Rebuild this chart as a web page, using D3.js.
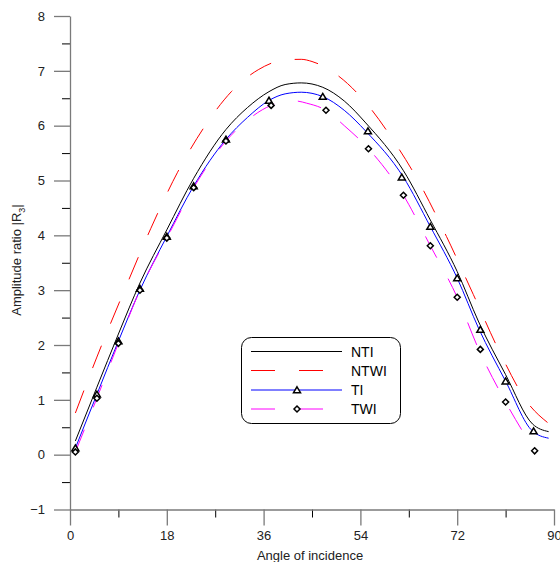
<!DOCTYPE html>
<html>
<head>
<meta charset="utf-8">
<script src="https://cdn.jsdelivr.net/npm/d3@7"></script>
<style>
  body { margin: 0; background: #fff; }
  text { font-family: Arial, "Liberation Sans", sans-serif; }
</style>
</head>
<body>
<div id="chart"></div>
<script>
(function() {
  var width = 560,
      height = 562;

  // curve samples (angle in degrees)
  var curveAngles = [1, 5, 9, 13, 18, 23, 29, 33, 37, 40, 43, 47, 51, 55, 62, 67, 72, 76, 81, 86, 89];
  var ntiValues  = [0.25, 1.23, 2.2, 3.13, 4.1, 5.04, 5.93, 6.33, 6.62, 6.75, 6.78, 6.7, 6.45, 6.05, 5.18, 4.28, 3.34, 2.42, 1.46, 0.56, 0.42];
  var tiValues   = [0.12, 1.1, 2.07, 3.0, 3.98, 4.9, 5.75, 6.15, 6.46, 6.58, 6.61, 6.53, 6.28, 5.9, 5.06, 4.16, 3.22, 2.3, 1.34, 0.43, 0.3];

  var ntwiAngles = [1, 5, 10, 15, 20, 25, 30, 35, 40, 43, 45, 50, 55, 60, 65, 70, 75, 80, 85, 89];
  var ntwiValues = [0.76, 1.78, 2.97, 4.12, 5.15, 5.98, 6.62, 7.02, 7.2, 7.21, 7.17, 6.9, 6.42, 5.75, 4.95, 3.98, 2.92, 1.85, 0.96, 0.57];

  var twiAngles  = [1, 5, 9, 13, 18, 23, 29, 33, 37.4, 40, 42, 44, 47.6, 51, 55.5, 62, 67, 72, 76, 81, 86.4];
  var twiValues  = [0.05, 1.03, 2.03, 3.0, 3.95, 4.87, 5.72, 6.1, 6.37, 6.44, 6.45, 6.41, 6.28, 6.0, 5.58, 4.73, 3.81, 2.87, 1.92, 0.96, 0.07];

  // marker points
  var tiMarkAngles  = [1, 5, 9, 13, 18, 23, 29, 37, 47, 55.4, 61.7, 67, 72, 76.3, 81, 86.2];
  var tiMarkValues  = [0.12, 1.1, 2.07, 3.03, 3.98, 4.9, 5.75, 6.46, 6.53, 5.9, 5.06, 4.16, 3.22, 2.28, 1.34, 0.43];
  var twiMarkAngles = [1, 5, 9, 13, 18, 23, 29, 37.4, 47.6, 55.5, 62, 67, 72, 76.3, 81, 86.4];
  var twiMarkValues = [0.05, 1.03, 2.03, 3.0, 3.95, 4.87, 5.72, 6.37, 6.28, 5.58, 4.73, 3.81, 2.87, 1.92, 0.96, 0.07];

  var xTicks = [0, 18, 36, 54, 72, 90];
  var xMinor = [9, 27, 45, 63, 81];
  var yTicks = [-1, 0, 1, 2, 3, 4, 5, 6, 7, 8];
  var yMinor = [-0.5, 0.5, 1.5, 2.5, 3.5, 4.5, 5.5, 6.5, 7.5];

  var legendNames = ["NTI", "NTWI", "TI", "TWI"];

  var x = d3.scaleLinear().domain([0, 90]).range([70, 554]);
  var y = d3.scaleLinear().domain([-1, 8]).range([509.5, 16]);

  var svg = d3.select("#chart")
      .append("svg")
      .attr("width", width)
      .attr("height", height);

  var axisGray = "#7a7a7a";

  // minor ticks first (black, short)
  var xAxisMinor = d3.axisBottom(x).tickValues(xMinor).tickSize(8).tickFormat("");
  var gxm = svg.append("g").attr("transform", "translate(0," + y(-1) + ")").call(xAxisMinor);
  gxm.select(".domain").remove();
  gxm.selectAll("line").attr("stroke", "#000");

  var yAxisMinor = d3.axisLeft(y).tickValues(yMinor).tickSize(8).tickFormat("");
  var gym = svg.append("g").attr("transform", "translate(" + x(0) + ",0)").call(yAxisMinor);
  gym.select(".domain").remove();
  gym.selectAll("line").attr("stroke", "#000");

  // major axes
  var xAxis = d3.axisBottom(x).tickValues(xTicks).tickSize(16).tickSizeOuter(0).tickPadding(5);
  var gx = svg.append("g").attr("transform", "translate(0," + y(-1) + ")").call(xAxis);
  gx.select(".domain").attr("stroke", axisGray).attr("stroke-width", 1.3);
  gx.selectAll("line").attr("stroke", axisGray).attr("stroke-width", 1.3);
  gx.selectAll("text").attr("font-size", 13).attr("fill", "#222")
    .attr("font-family", "Arial, 'Liberation Sans', sans-serif");

  var yAxis = d3.axisLeft(y).tickValues(yTicks).tickSize(16).tickSizeOuter(0).tickPadding(9);
  var gy = svg.append("g").attr("transform", "translate(" + x(0) + ",0)").call(yAxis);
  gy.select(".domain").attr("stroke", axisGray).attr("stroke-width", 1.3);
  gy.selectAll("line").attr("stroke", axisGray).attr("stroke-width", 1.3);
  gy.selectAll("text").attr("font-size", 13).attr("fill", "#222")
    .attr("font-family", "Arial, 'Liberation Sans', sans-serif");

  // axis titles
  svg.append("text")
    .attr("x", 310).attr("y", 560)
    .attr("text-anchor", "middle")
    .attr("font-size", 13).attr("fill", "#222")
    .text("Angle of incidence");

  var yt = svg.append("text")
    .attr("transform", "translate(21,260) rotate(-90)")
    .attr("text-anchor", "middle")
    .attr("font-size", 13).attr("fill", "#222");
  yt.append("tspan").text("Amplitude ratio |R");
  yt.append("tspan").attr("font-size", 9).attr("dy", 4).text("3");
  yt.append("tspan").attr("dy", -4).text("|");

  var line = d3.line()
    .x(function(d) { return x(d[0]); })
    .y(function(d) { return y(d[1]); })
    .curve(d3.curveMonotoneX);

  var zip = function(a, b) { return a.map(function(v, i) { return [v, b[i]]; }); };

  var series = [
    { data: zip(curveAngles, ntiValues), color: "#000000", dash: null },
    { data: zip(ntwiAngles, ntwiValues), color: "#ff0000", dash: "24,24" },
    { data: zip(curveAngles, tiValues), color: "#0000ff", dash: null },
    { data: zip(twiAngles, twiValues), color: "#ff00ff", dash: "24,24" }
  ];

  svg.append("g").selectAll("path")
    .data(series)
    .enter()
    .append("path")
    .attr("d", function(d) { return line(d.data); })
    .attr("fill", "none")
    .attr("stroke", function(d) { return d.color; })
    .attr("stroke-width", 1)
    .attr("stroke-dasharray", function(d) { return d.dash; });

  var triangle = "M0,-3.2L3.5,2.7L-3.5,2.7Z";
  var diamond = "M0,-3L3,0L0,3L-3,0Z";

  svg.append("g").selectAll("path")
    .data(zip(tiMarkAngles, tiMarkValues))
    .enter()
    .append("path")
    .attr("d", triangle)
    .attr("transform", function(d) { return "translate(" + x(d[0]) + "," + y(d[1]) + ")"; })
    .attr("fill", "#fff").attr("stroke", "#000").attr("stroke-width", 1.5);

  svg.append("g").selectAll("path")
    .data(zip(twiMarkAngles, twiMarkValues))
    .enter()
    .append("path")
    .attr("d", diamond)
    .attr("transform", function(d) { return "translate(" + x(d[0]) + "," + y(d[1]) + ")"; })
    .attr("fill", "#fff").attr("stroke", "#000").attr("stroke-width", 1.5);

  // legend
  var legend = svg.append("g");
  legend.append("rect")
    .attr("x", 241.5).attr("y", 337.5)
    .attr("width", 159).attr("height", 86)
    .attr("rx", 10).attr("ry", 10)
    .attr("fill", "#fff").attr("stroke", "#000").attr("stroke-width", 1);

  var rowY = [351.5, 370.5, 390, 409];
  var items = legend.selectAll("g.item")
    .data(series)
    .enter()
    .append("g")
    .attr("class", "item")
    .attr("transform", function(d, i) { return "translate(0," + rowY[i] + ")"; });

  items.append("line")
    .attr("x1", 251).attr("x2", function(d) { return d.dash ? 275 : 342; })
    .attr("stroke", function(d) { return d.color; })
    .attr("stroke-width", 1);
  items.filter(function(d) { return d.dash; })
    .append("line")
    .attr("x1", 299).attr("x2", 323)
    .attr("stroke", function(d) { return d.color; })
    .attr("stroke-width", 1);

  items.append("text")
    .attr("x", 351).attr("y", 5)
    .attr("font-size", 14).attr("fill", "#000")
    .text(function(d, i) { return legendNames[i]; });

  legend.append("path").attr("d", triangle)
    .attr("transform", "translate(297," + rowY[2] + ")")
    .attr("fill", "#fff").attr("stroke", "#000").attr("stroke-width", 1.5);
  legend.append("path").attr("d", diamond)
    .attr("transform", "translate(297," + rowY[3] + ")")
    .attr("fill", "#fff").attr("stroke", "#000").attr("stroke-width", 1.5);
})();
</script>
</body>
</html>
